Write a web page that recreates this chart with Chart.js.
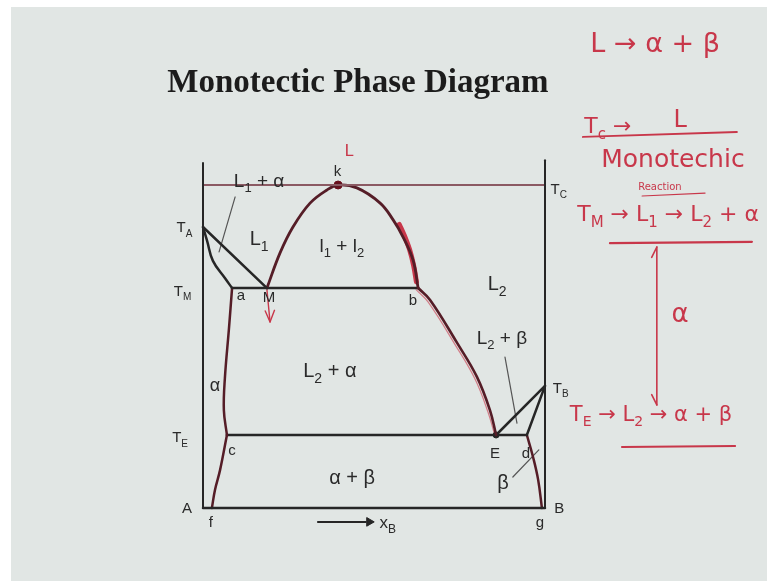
<!DOCTYPE html>
<html><head><meta charset="utf-8">
<script src="https://cdn.jsdelivr.net/npm/chart.js@4.4.0/dist/chart.umd.min.js"></script>
<style>html,body{margin:0;padding:0;background:#fff;}canvas{display:block;}</style>
</head><body>
<canvas id="c" width="767" height="581"></canvas>
<script>
// Composition axis: 0 = pure A, 100 = pure B. Temperature in relative units (T_C = 100).
const T_A = 87.0, T_B = 37.8, T_M = 68.1, T_E = 22.6, T_C = 100;

// Phase boundaries (composition, temperature)
const liqAX = [0, 18.7];                      const liqAT = [T_A, T_M];
const solAX = [0, 1.2, 2.9, 6.4, 8.5];        const solAT = [T_A, 82.7, 76.5, 71.2, T_M];
const solvAupX = [8.5, 7.6, 6.4, 6.1, 7.0];   const solvAupT = [T_M, 55.7, 40.2, 30.3, T_E];
const solvAloX = [7.0, 5.0, 3.5, 2.6];        const solvAloT = [T_E, 11.8, 5.6, 0];
const domeX = [18.7, 22.5, 26.3, 31.3, 36.3, 39.5, 45.0, 51.8, 55.6, 58.5, 61.4, 62.9];
const domeT = [T_M, 78.9, 87.0, 94.4, 98.5, T_C, 99.1, 94.4, 89.2, 83.9, 76.8, T_M];
const liqB2X = [62.9, 66.4, 74.3, 80.1, 83.9, 85.7]; const liqB2T = [T_M, 64.4, 51.1, 40.6, 30.3, T_E];
const liqBX = [85.7, 100];                    const liqBT = [T_E, T_B];
const solBX = [100, 94.7];                    const solBT = [T_B, T_E];
const solvBX = [94.7, 96.5, 98.0, 99.1];      const solvBT = [T_E, 15.8, 8.7, 0];
const monoX = [8.5, 62.9];                    // monotectic isotherm at T_M
const eutX = [7.0, 94.7];                     // eutectic isotherm at T_E
const critX = [0, 100];                       // T_C line
const frameLX = [0, 0];   const frameLT = [0, 106.8];
const frameRX = [100, 100]; const frameRT = [0, 107.7];
const frameBX = [0, 100]; const frameBT = [0, 0];
// pointer lines to region labels
const ptr1X = [9.4, 4.7];   const ptr1T = [96.3, 79.3];
const ptr2X = [88.3, 91.8]; const ptr2T = [46.7, 26.3];
const ptr3X = [90.6, 98.2]; const ptr3T = [9.6, 18.0];
const xArrowX = [33.6, 47.6]; const xArrowT = [-4.3, -4.3];
const xArrowHead = [48.6, -4.3];
// special points
const kPt = [39.5, T_C];
const ePt = [85.7, T_E];

// handwritten (red) annotation strokes
const redDomeX = [57.4, 58.8, 60.4, 61.6, 62.4]; const redDomeT = [87.8, 84.5, 80.0, 75.0, 70.0];
const redLiqX = [62.3, 65.8, 73.7, 79.5, 83.3, 85.2]; const redLiqT = [67.6, 63.8, 50.6, 40.0, 29.8, 23.0];
const redU1X = [111.1, 156.1]; const redU1T = [114.9, 116.4];
const redU2X = [128.4, 146.8]; const redU2T = [96.6, 97.5];
const redU3X = [119.0, 160.5]; const redU3T = [82.0, 82.4];
const redU4X = [122.5, 155.6]; const redU4T = [18.9, 19.2];
const redVX = [132.7, 132.7];  const redVT = [80.8, 31.9];
const redHeadTopX = [131.2, 132.7, 134.2]; const redHeadTopT = [77.6, 80.8, 77.6];
const redHeadBotX = [131.2, 132.7, 134.2]; const redHeadBotT = [35.1, 31.9, 35.1];
const redMX = [18.7, 19.6];    const redMT = [67.5, 57.6];
const redMHeadX = [18.2, 19.6, 20.9]; const redMHeadT = [61.0, 57.6, 61.2];

// text labels
const labelTexts = ['L_1 + α','k','T_A','L_1','l_1 + l_2','T_M','a','M','b','L_2','L_2 + β','L_2 + α','α','T_E','c','E','d','α + β','β','T_B','T_C','A','f','g','B','x_B'];
const labelX =     [16.4, 39.3, -5.4, 16.4, 40.6, -6.0, 11.1, 19.3, 61.4, 86.0, 87.4, 37.1, 3.5, -6.7, 8.5, 85.4, 94.4, 43.6, 87.7, 104.6, 104.0, -4.7, 2.3, 98.5, 104.2, 54.0];
const labelT =     [101.5, 104.6, 87.0, 83.6, 81.4, 67.3, 66.0, 65.6, 64.4, 69.7, 52.9, 42.7, 38.1, 22.0, 18.0, 17.3, 17.3, 9.6, 8.0, 37.2, 99.0, 0, -4.3, -4.3, 0, -4.3];
const labelSize =  [19, 15, 15, 20, 19, 15, 15, 15, 15, 20, 19, 20, 18, 15, 15, 15, 15, 20, 20, 15, 15, 15, 15, 15, 15, 17];

const redTexts = ['L → α + β','T_c →','L','Monotechic','Reaction','T_M → L_1 → L_2 + α','α','T_E → L_2 → α + β','L'];
const redX =     [132.2, 118.4, 139.5, 137.4, 133.6, 136.0, 139.5, 131.0, 42.7];
const redT =     [144.3, 118.6, 120.7, 108.4, 99.6, 91.3, 60.4, 29.4, 110.8];
const redSize =  [27, 22, 24, 25, 10, 22, 26, 21, 16];

const titleText = 'Monotectic Phase Diagram';
const titlePos = [45.3, 132.4];

const BLACK = '#262626', MAROON = '#551d27', TCLINE = '#8b5a63', RED = '#c8374a';
function pts(xs, ts) { return xs.map((x, i) => ({x: x, y: ts[i]})); }
function flat(xs, t) { return xs.map(x => ({x: x, y: t})); }
function ds(data, color, width, tension, extra) {
  return Object.assign({data: data, showLine: true, borderColor: color, backgroundColor: color,
    borderWidth: width, pointRadius: 0, tension: tension || 0, fill: false, clip: false,
    borderCapStyle: 'round', borderJoinStyle: 'round'}, extra || {});
}

const datasets = [
  ds(pts(frameLX, frameLT), BLACK, 2),
  ds(pts(frameRX, frameRT), BLACK, 2),
  ds(pts(frameBX, frameBT), BLACK, 2.5),
  ds(flat(critX, T_C), TCLINE, 2),
  ds(pts(liqAX, liqAT), BLACK, 2.5),
  ds(pts(solAX, solAT), BLACK, 2.5, 0.4),
  ds(pts(solvAupX, solvAupT), MAROON, 2.5, 0.4),
  ds(pts(solvAloX, solvAloT), MAROON, 2.5, 0.4),
  ds(pts(domeX, domeT), MAROON, 2.8, 0.4),
  ds(pts(liqB2X, liqB2T), MAROON, 2.6, 0.4),
  ds(pts(liqBX, liqBT), BLACK, 2.5),
  ds(pts(solBX, solBT), BLACK, 2.5),
  ds(pts(solvBX, solvBT), MAROON, 2.5, 0.4),
  ds(flat(monoX, T_M), BLACK, 2.5),
  ds(flat(eutX, T_E), BLACK, 2.5),
  ds(pts(ptr1X, ptr1T), '#555', 1.2),
  ds(pts(ptr2X, ptr2T), '#555', 1.2),
  ds(pts(ptr3X, ptr3T), '#555', 1.2),
  ds(pts(xArrowX, xArrowT), BLACK, 2),
  ds([{x: xArrowHead[0], y: xArrowHead[1]}], BLACK, 1, 0, {showLine: false, pointRadius: 5, pointStyle: 'triangle', rotation: 90}),
  ds([{x: kPt[0], y: kPt[1]}], '#6a0f1c', 1, 0, {showLine: false, pointRadius: 4}),
  ds([{x: ePt[0], y: ePt[1]}], BLACK, 1, 0, {showLine: false, pointRadius: 3}),
  // red annotation strokes
  ds(pts(redDomeX, redDomeT), RED, 5, 0.4),
  ds(pts(redLiqX, redLiqT), 'rgba(200,55,74,0.6)', 1.2, 0.4),
  ds(pts(redU1X, redU1T), RED, 2),
  ds(pts(redU2X, redU2T), RED, 1.2),
  ds(pts(redU3X, redU3T), RED, 2.2),
  ds(pts(redU4X, redU4T), RED, 2),
  ds(pts(redVX, redVT), RED, 1.6),
  ds(pts(redHeadTopX, redHeadTopT), RED, 1.6),
  ds(pts(redHeadBotX, redHeadBotT), RED, 1.6),
  ds(pts(redMX, redMT), RED, 1.4),
  ds(pts(redMHeadX, redMHeadT), RED, 1.4)
];

function drawRich(ctx, str, x, y, size, family, weight, color) {
  const parts = [];
  for (let i = 0; i < str.length; i++) {
    if (str[i] === '_' && i + 1 < str.length) { parts.push({t: str[i + 1], sub: true}); i++; }
    else if (parts.length && !parts[parts.length - 1].sub) parts[parts.length - 1].t += str[i];
    else parts.push({t: str[i], sub: false});
  }
  const mainF = weight + ' ' + size + 'px ' + family;
  const subF = weight + ' ' + Math.round(size * 0.68) + 'px ' + family;
  let w = 0;
  parts.forEach(p => { ctx.font = p.sub ? subF : mainF; p.w = ctx.measureText(p.t).width; w += p.w; });
  let cx = x - w / 2;
  const base = y + size * 0.36;
  ctx.fillStyle = color; ctx.textBaseline = 'alphabetic'; ctx.textAlign = 'left';
  parts.forEach(p => { ctx.font = p.sub ? subF : mainF; ctx.fillText(p.t, cx, p.sub ? base + size * 0.28 : base); cx += p.w; });
}

const decor = {
  id: 'decor',
  beforeDraw(chart) {
    const ctx = chart.ctx;
    ctx.save();
    ctx.fillStyle = '#ffffff'; ctx.fillRect(0, 0, chart.width, chart.height);
    ctx.fillStyle = '#e1e6e4'; ctx.fillRect(11, 7, chart.width - 11, chart.height - 7);
    ctx.restore();
  },
  afterDatasetsDraw(chart) {
    const ctx = chart.ctx, xs = chart.scales.x, ys = chart.scales.y;
    ctx.save();
    drawRich(ctx, titleText, xs.getPixelForValue(titlePos[0]), ys.getPixelForValue(titlePos[1]), 33, '"Liberation Serif", "Times New Roman", serif', 'bold', '#1c1c1c');
    labelTexts.forEach((t, i) => drawRich(ctx, t, xs.getPixelForValue(labelX[i]), ys.getPixelForValue(labelT[i]), labelSize[i], '"Liberation Sans", Arial, sans-serif', 'normal', '#2a2a2a'));
    redTexts.forEach((t, i) => drawRich(ctx, t, xs.getPixelForValue(redX[i]), ys.getPixelForValue(redT[i]), redSize[i], '"DejaVu Sans", sans-serif', 'normal', RED));
    ctx.restore();
  }
};

new Chart(document.getElementById('c'), {
  type: 'scatter',
  data: {datasets: datasets},
  options: {
    responsive: false, animation: false, devicePixelRatio: 1,
    layout: {padding: {left: 203, right: 222, top: 159, bottom: 47.16}},
    plugins: {legend: {display: false}, tooltip: {enabled: false}, title: {display: false}},
    scales: {
      x: {type: 'linear', min: 0, max: 100, display: false},
      y: {type: 'linear', min: -8, max: 108.05, display: false}
    }
  },
  plugins: [decor]
});
</script>
</body></html>
